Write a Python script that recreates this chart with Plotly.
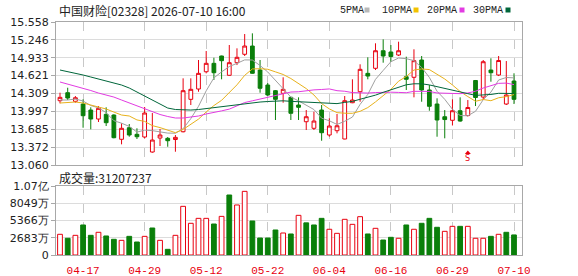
import plotly.graph_objects as go
import pandas as pd

dates = ["04-14","04-15","04-16","04-17","04-20","04-21","04-22","04-23","04-24","04-27",
         "04-28","04-29","04-30","05-04","05-05","05-06","05-07","05-08","05-11","05-12",
         "05-13","05-14","05-15","05-18","05-19","05-20","05-21","05-22","05-26","05-27",
         "05-28","05-29","06-01","06-02","06-03","06-04","06-05","06-08","06-09","06-10",
         "06-11","06-12","06-15","06-16","06-17","06-18","06-22","06-23","06-24","06-25",
         "06-26","06-29","06-30","07-02","07-03","07-06","07-07","07-08","07-09","07-10"]

opens = [14.183,14.323,14.172,14.125,14.020,13.863,13.945,13.933,13.509,13.711,
         13.596,13.549,13.287,13.531,13.526,13.505,13.641,14.207,14.387,14.689,
         14.836,14.964,14.627,14.847,14.994,15.138,14.719,14.457,14.358,14.312,
         14.242,14.108,13.816,13.701,14.020,13.584,13.659,13.514,14.148,14.340,
         14.661,14.749,15.056,15.034,14.981,14.602,14.592,14.894,14.370,14.125,
         13.903,13.841,14.008,13.924,14.536,14.247,14.719,14.632,14.125,14.527]
highs = [14.323,14.410,14.265,14.207,14.068,14.090,14.068,13.945,13.788,13.776,
         13.701,14.073,13.968,13.689,13.549,13.584,14.574,14.574,14.894,15.051,
         14.934,14.970,15.156,15.098,15.348,15.360,14.894,14.492,14.370,14.592,
         14.253,14.242,14.020,13.991,14.108,13.875,13.951,14.265,14.557,14.819,
         14.941,15.186,15.255,15.156,15.214,14.952,15.081,14.964,14.457,14.225,
         14.020,14.207,14.242,14.195,14.545,14.894,14.924,14.964,14.876,14.662]
lows = [14.137,14.195,14.148,13.711,13.683,13.811,13.741,13.526,13.421,13.554,
        13.514,13.526,13.275,13.392,13.379,13.292,13.630,14.108,14.340,14.661,
        14.545,14.557,14.620,14.806,14.964,14.655,14.323,14.265,13.846,14.148,
        13.846,13.846,13.671,13.671,13.484,13.554,13.613,13.510,14.140,14.165,
        14.557,14.719,14.847,14.864,14.964,14.370,14.242,14.165,14.008,13.554,
        13.526,13.750,13.816,13.907,14.090,14.195,14.515,14.614,14.108,14.125]
closes = [14.242,14.230,14.235,13.921,13.863,14.050,13.799,13.537,13.701,13.584,
          13.554,13.968,13.496,13.584,13.484,13.543,14.358,14.382,14.661,14.836,
          14.672,14.882,14.847,14.941,15.138,14.662,14.400,14.283,14.207,14.382,
          13.963,14.068,13.903,13.828,13.624,13.741,13.745,14.183,14.195,14.731,
          14.614,15.056,14.964,14.955,15.056,14.557,14.882,14.370,14.085,13.846,
          13.854,14.008,13.828,14.064,14.239,14.864,14.672,14.885,14.283,14.207]
volumes = [32200000,26000000,30600000,46700000,30600000,35300000,29600000,24400000,22800000,29000000,
           20200000,29000000,42000000,22800000,8800000,30600000,75700000,49300000,57000000,57000000,
           48200000,60100000,93300000,77800000,99000000,52900000,26400000,26400000,38900000,34200000,
           32700000,61700000,50000000,46700000,57000000,40000000,33700000,55500000,47700000,59600000,
           32700000,41500000,23300000,27500000,26000000,46700000,40000000,49300000,57000000,43100000,
           36800000,44600000,44600000,44600000,26000000,26000000,29000000,32200000,35300000,31207237]

# moving-average values for bars before each window is complete
ma5_head = [14.195,14.195,14.213,14.178]
ma10_head = [14.143,14.151,14.160,14.143,14.108,14.073,14.038,13.985,13.933]
ma20_head = [14.510,14.475,14.440,14.405,14.361,14.317,14.282,14.247,14.195,14.143,
             14.090,14.038,13.985,13.942,13.907,13.881,13.881,13.898,13.916]
ma30_head = [14.719,14.693,14.667,14.632,14.597,14.562,14.527,14.501,14.457,14.405,
             14.335,14.265,14.195,14.125,14.055,14.029,14.020,14.020,14.029,14.047,
             14.064,14.073,14.090,14.108,14.125,14.143,14.160,14.169,14.178]

price_ticks = [13.060,13.372,13.685,13.997,14.309,14.621,14.933,15.246,15.558]
price_labels = ["13.060","13.372","13.685","13.997","14.309","14.621","14.933","15.246","15.558"]
vol_ticks = [0,26830000,53660000,80490000,107320000]
vol_labels = ["0","2683万","5366万","8049万","1.07亿"]
date_ticks = ["04-17","04-29","05-12","05-22","06-04","06-16","06-29","07-10"]

title_text = "中国财险[02328] 2026-07-10 16:00"
vol_text = "成交量:31207237"
ma_names = ["5PMA","10PMA","20PMA","30PMA"]
marker_date = "07-02"

RED = "#e8000f"
GREEN = "#0a7f0a"
ma_colors = ["#a0a0a0", "#e8b21c", "#e23be2", "#00663a"]
legend_sq = ["#b8b8b8", "#f2c200", "#e23be2", "#00663a"]

s = pd.Series(closes)
def ma(n, head):
    r = s.rolling(n).mean().tolist()
    return head + r[len(head):]
mas = [ma(5, ma5_head), ma(10, ma10_head), ma(20, ma20_head), ma(30, ma30_head)]

vol_colors = []
for i in range(len(closes)):
    prev = closes[i-1] if i > 0 else opens[i]
    vol_colors.append(RED if closes[i] >= prev else GREEN)
vol_fill = ["#ffffff" if c == RED else GREEN for c in vol_colors]

fig = go.Figure()
fig.add_trace(go.Candlestick(
    x=dates, open=opens, high=highs, low=lows, close=closes,
    xaxis="x2", yaxis="y2",
    increasing=dict(line=dict(color=RED, width=1), fillcolor="#ffffff"),
    decreasing=dict(line=dict(color=GREEN, width=1), fillcolor=GREEN),
    whiskerwidth=0, showlegend=False, hoverinfo="skip"))
for name, vals, col in zip(ma_names, mas, ma_colors):
    fig.add_trace(go.Scatter(x=dates, y=vals, mode="lines", xaxis="x2", yaxis="y2",
                             line=dict(color=col, width=1), showlegend=False, hoverinfo="skip"))
fig.add_trace(go.Bar(x=dates, y=volumes, width=0.62,
                     marker=dict(color=vol_fill, line=dict(color=vol_colors, width=1)),
                     showlegend=False, hoverinfo="skip"))

L, R, T, B = 56, 56, 22, 21
W, H = 578, 276
PW, PH = W - L - R, H - T - B
XR = [-0.52, 60.04]
def px(x):
    return (x - L) / PW
def py(y):
    return 1 - (y - T) / PH

axis_common = dict(showline=True, mirror=True, linecolor="#a8a8a8", linewidth=1, automargin=False)
fig.update_layout(
    width=W, height=H, margin=dict(l=L, r=R, t=T, b=B, autoexpand=False),
    paper_bgcolor="white", plot_bgcolor="white",
    font=dict(family="DejaVu Sans", size=11, color="#222"),
    bargap=0.3,
    xaxis=dict(type="category", range=XR, domain=[0, 1], anchor="y",
               tickmode="array", tickvals=date_ticks, ticktext=date_ticks,
               tickfont=dict(family="Liberation Mono", size=11, color=RED),
               ticklabelstandoff=5,
               showgrid=True, gridcolor="#c8c8c8", griddash="dash", gridwidth=1,
               ticks="", rangeslider=dict(visible=False), **axis_common),
    yaxis=dict(domain=[0, 1 - (186 - T) / PH], range=[0, 107320000],
               tickmode="array", tickvals=vol_ticks, ticktext=vol_labels,
               ticks="outside", ticklen=4, tickcolor="#a8a8a8",
               showgrid=True, gridcolor="#dcdcdc", zeroline=False,
               tickfont=dict(family="DejaVu Sans", size=11, color="#222"), **axis_common),
    xaxis2=dict(type="category", range=XR, domain=[0, 1], anchor="y2",
                matches="x", tickmode="array", tickvals=date_ticks, showticklabels=False,
                showgrid=True, gridcolor="#c8c8c8", griddash="dash", gridwidth=1,
                ticks="", rangeslider=dict(visible=False), **axis_common),
    yaxis2=dict(domain=[1 - (165 - T) / PH, 1], range=[13.060, 15.558], anchor="x2",
                tickmode="array", tickvals=price_ticks, ticktext=price_labels,
                ticks="outside", ticklen=4, tickcolor="#a8a8a8",
                showgrid=True, gridcolor="#dcdcdc", zeroline=False,
                tickfont=dict(family="DejaVu Sans", size=11, color="#222"), **axis_common),
)

ann = []
shapes = []
ann.append(dict(text=title_text, x=px(57), y=py(10), xref="paper", yref="paper",
                xanchor="left", yanchor="middle", showarrow=False,
                font=dict(family="Noto Sans CJK SC", size=12, color="#222")))
ann.append(dict(text=vol_text, x=px(57), y=py(177), xref="paper", yref="paper",
                xanchor="left", yanchor="middle", showarrow=False,
                font=dict(family="Noto Sans CJK SC", size=12, color="#222")))
leg_x = [338, 380, 425, 471]
sq_x = [367, 416, 462, 508]
for name, lx, sx, c in zip(ma_names, leg_x, sq_x, legend_sq):
    ann.append(dict(text=name, x=px(lx), y=py(10), xref="paper", yref="paper",
                    xanchor="left", yanchor="middle", showarrow=False,
                    font=dict(family="Liberation Mono", size=10, color="#222")))
    shapes.append(dict(type="rect", xref="paper", yref="paper",
                       x0=px(sx - 2.5), x1=px(sx + 2.5), y0=py(12.5), y1=py(7.5),
                       fillcolor=c, line=dict(width=0)))
# dividend marker: small up-arrow above an "S", placed at the marker date's slot
mi = dates.index(marker_date)
mx = (mi - XR[0]) / (XR[1] - XR[0])
dx = 3.0 / PW
ann.append(dict(text="S", x=mx, y=py(158.5), xref="paper", yref="paper",
                xanchor="center", yanchor="middle", showarrow=False,
                font=dict(family="DejaVu Sans", size=8, color=RED)))
shapes.append(dict(type="path", xref="paper", yref="paper",
                   path=f"M {mx-dx},{py(154)} L {mx+dx},{py(154)} L {mx},{py(150.5)} Z",
                   fillcolor=RED, line=dict(width=0)))
fig.update_layout(annotations=ann, shapes=shapes)

fig.write_html("out.html")
